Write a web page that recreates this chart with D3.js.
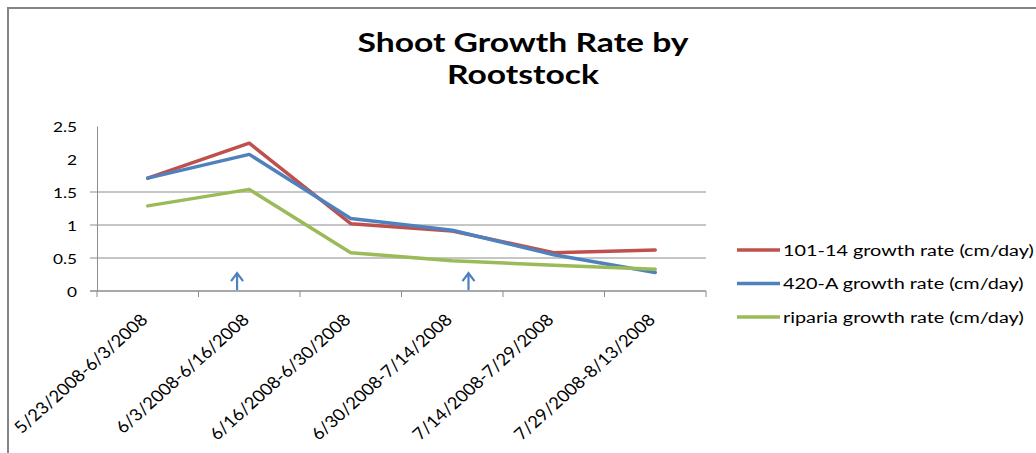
<!DOCTYPE html>
<html>
<head>
<meta charset="utf-8">
<script src="https://cdn.jsdelivr.net/npm/d3@7"></script>
<style>
  html, body { margin: 0; padding: 0; background: #fff; }
  svg { display: block; }
</style>
</head>
<body>
<svg id="chart" width="1036" height="453"></svg>
<script>
// Sampling periods (x categories)
const categories = [
  "5/23/2008-6/3/2008",
  "6/3/2008-6/16/2008",
  "6/16/2008-6/30/2008",
  "6/30/2008-7/14/2008",
  "7/14/2008-7/29/2008",
  "7/29/2008-8/13/2008"
];

// Growth rate per rootstock, cm/day
const rate10114 = [1.71, 2.24, 1.02, 0.91, 0.58, 0.62];
const rate420A  = [1.71, 2.07, 1.10, 0.92, 0.55, 0.28];
const rateRiparia = [1.29, 1.54, 0.58, 0.46, 0.39, 0.33];

const seriesNames = [
  "101-14 growth rate (cm/day)",
  "420-A growth rate (cm/day)",
  "riparia growth rate (cm/day)"
];

const yTicks = [0, 0.5, 1, 1.5, 2, 2.5];
const yGrid = [0, 0.5, 1, 1.5];

// Event markers, expressed as positions along the category axis (in periods)
const markerPositions = [1.38, 3.66];
const markerHeight = 0.27;

const colors = ["#C0504D", "#4F81BD", "#9BBB59"];
const series = [rate10114, rate420A, rateRiparia].map((values, i) => ({
  name: seriesNames[i], values, color: colors[i]
}));

const svg = d3.select("#chart");
const SX = 1.28; // horizontal text stretch
const textFont = "Lato, 'Open Sans', sans-serif";

// outer frame
svg.append("rect")
  .attr("x", 8).attr("y", 8)
  .attr("width", 1040).attr("height", 460)
  .attr("fill", "none").attr("stroke", "#848484").attr("stroke-width", 2);

// title, two lines
const titleLines = ["Shoot Growth Rate by", "Rootstock"];
svg.append("g")
  .selectAll("text")
  .data(titleLines)
  .join("text")
  .attr("font-family", textFont)
  .attr("font-weight", "bold")
  .attr("font-size", 26.5)
  .attr("fill", "#000")
  .attr("text-anchor", "middle")
  .attr("transform", (d, i) => `translate(523,${52 + i * 32}) scale(1.27,1)`)
  .text(d => d);

const plot = { left: 97, right: 706, top: 126, bottom: 291 };

const x = d3.scaleBand().domain(categories).range([plot.left, plot.right]).paddingInner(0).paddingOuter(0);
const xPos = d3.scaleLinear().domain([0, categories.length]).range([plot.left, plot.right]);
const y = d3.scaleLinear().domain([0, 2.5]).range([plot.bottom, plot.top]);

// horizontal gridlines
svg.append("g")
  .selectAll("line")
  .data(yGrid)
  .join("line")
  .attr("x1", plot.left - 7).attr("x2", plot.right)
  .attr("y1", d => y(d)).attr("y2", d => y(d))
  .attr("stroke", "#8c8c8c").attr("stroke-width", 1);

// y axis
const yAxis = svg.append("g")
  .attr("transform", `translate(${plot.left},0)`)
  .call(d3.axisLeft(y).tickValues(yTicks).tickSize(0).tickPadding(0).tickFormat(d3.format("")));
yAxis.select(".domain").attr("stroke", "#8c8c8c").attr("stroke-width", 1);
yAxis.selectAll("text")
  .attr("font-family", textFont)
  .attr("font-size", 13.5)
  .attr("fill", "#000")
  .attr("x", null).attr("dy", null)
  .attr("text-anchor", "end")
  .attr("transform", `translate(-20,5) scale(${SX},1)`);

// x axis
const xAxis = svg.append("g")
  .attr("transform", `translate(0,${plot.bottom})`);
xAxis.append("line")
  .attr("x1", plot.left - 7).attr("x2", plot.right)
  .attr("stroke", "#8c8c8c");
xAxis.selectAll("line.tick")
  .data(d3.range(categories.length + 1))
  .join("line")
  .attr("class", "tick")
  .attr("x1", d => xPos(d)).attr("x2", d => xPos(d))
  .attr("y1", 0).attr("y2", 6)
  .attr("stroke", "#8c8c8c");
xAxis.selectAll("text")
  .data(categories)
  .join("text")
  .attr("font-family", textFont)
  .attr("font-size", 16.5)
  .attr("fill", "#000")
  .attr("text-anchor", "end")
  .attr("transform", d => `translate(${x(d) + x.bandwidth() / 2 + 1},${30}) scale(1.12,1) rotate(-45)`)
  .text(d => d);

// series lines
const line = d3.line()
  .x((d, i) => x(categories[i]) + x.bandwidth() / 2)
  .y(d => y(d));

svg.append("g")
  .selectAll("path")
  .data(series)
  .join("path")
  .attr("d", s => line(s.values))
  .attr("fill", "none")
  .attr("stroke", s => s.color)
  .attr("stroke-width", 3.5)
  .attr("stroke-linejoin", "round")
  .attr("stroke-linecap", "round");

// event arrows
const arrows = svg.append("g")
  .attr("stroke", "#4F81BD")
  .attr("stroke-width", 2.2)
  .attr("fill", "none");
markerPositions.forEach(p => {
  const ax = xPos(p);
  const top = y(markerHeight);
  arrows.append("path")
    .attr("d", `M${ax},${y(0) - 1}V${top} M${ax - 6},${top + 8}L${ax},${top}L${ax + 6},${top + 8}`);
});

// legend
const legendItems = svg.append("g")
  .selectAll("g")
  .data(series)
  .join("g")
  .attr("transform", (d, i) => `translate(737,${250 + i * 33.5})`);
legendItems.append("line")
  .attr("x1", 0).attr("x2", 43)
  .attr("stroke", d => d.color)
  .attr("stroke-width", 3.5);
legendItems.append("text")
  .attr("font-family", textFont)
  .attr("font-size", 15.5)
  .attr("fill", "#000")
  .attr("transform", `translate(46,5.5) scale(1.28,1)`)
  .text(d => d.name);
</script>
</body>
</html>
